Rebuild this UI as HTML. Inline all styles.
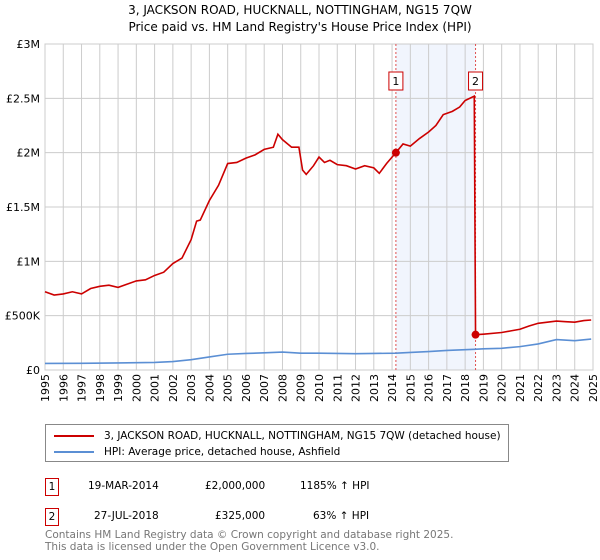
<!DOCTYPE html>
<html><head><meta charset="utf-8"><style>
body{margin:0;background:#fff;font-family:"DejaVu Sans","Liberation Sans",sans-serif;}
#wrap{position:relative;width:600px;height:560px;overflow:hidden}
.t{position:absolute;font-size:11px;color:#000;white-space:nowrap}
</style></head><body>
<div id="wrap">
<div class="t" style="left:0;width:600px;text-align:center;top:2px;font-size:12px;line-height:17px">3, JACKSON ROAD, HUCKNALL, NOTTINGHAM, NG15 7QW<br>Price paid vs. HM Land Registry's House Price Index (HPI)</div>
<svg id="chart" width="600" height="410" style="position:absolute;left:0;top:0"></svg>
<div style="position:absolute;left:45px;top:424px;width:464px;height:38px;border:1px solid #888;box-sizing:border-box">
 <div style="position:absolute;left:8px;top:5px;font-size:10.5px"><span style="display:inline-block;width:40px;height:2px;background:#cc0000;vertical-align:middle;margin-right:10px"></span>3, JACKSON ROAD, HUCKNALL, NOTTINGHAM, NG15 7QW (detached house)</div>
 <div style="position:absolute;left:8px;top:21px;font-size:10.5px"><span style="display:inline-block;width:40px;height:2px;background:#5b8fd4;vertical-align:middle;margin-right:10px"></span>HPI: Average price, detached house, Ashfield</div>
</div>
<div style="position:absolute;left:45px;top:478px;width:14px;height:18px;border:1px solid #cc0000;box-sizing:border-box;font-size:10.5px;text-align:center;line-height:16px">1</div>
<div class="t" style="left:88px;top:480px;font-size:10.5px">19-MAR-2014</div>
<div class="t" style="left:205px;top:480px;font-size:10.5px">£2,000,000</div>
<div class="t" style="left:300px;top:480px;font-size:10.5px">1185% ↑ HPI</div>
<div style="position:absolute;left:45px;top:508px;width:14px;height:18px;border:1px solid #cc0000;box-sizing:border-box;font-size:10.5px;text-align:center;line-height:16px">2</div>
<div class="t" style="left:94px;top:510px;font-size:10.5px">27-JUL-2018</div>
<div class="t" style="left:215px;top:510px;font-size:10.5px">£325,000</div>
<div class="t" style="left:313px;top:510px;font-size:10.5px">63% ↑ HPI</div>
<div class="t" style="left:45px;top:530px;font-size:10.5px;color:#777;line-height:11.5px">Contains HM Land Registry data © Crown copyright and database right 2025.<br>This data is licensed under the Open Government Licence v3.0.</div>
</div>
<script>
const yTicks=[0,500000,1000000,1500000,2000000,2500000,3000000];
const yTickLabels=["£0","£500K","£1M","£1.5M","£2M","£2.5M","£3M"];
const xYears=[1995,1996,1997,1998,1999,2000,2001,2002,2003,2004,2005,2006,2007,2008,2009,2010,2011,2012,2013,2014,2015,2016,2017,2018,2019,2020,2021,2022,2023,2024,2025];
const saleDates=[2014.21,2018.57];
const salePrices=[2000000,325000];
const redT=[1995,1995.5,1996,1996.5,1997,1997.5,1998,1998.5,1999,1999.5,2000,2000.5,2001,2001.5,2002,2002.5,2003,2003.3,2003.5,2004,2004.5,2005,2005.5,2006,2006.5,2007,2007.5,2007.75,2008,2008.5,2008.9,2009.1,2009.3,2009.7,2010,2010.3,2010.6,2011,2011.5,2012,2012.5,2013,2013.3,2013.7,2014.21,2014.6,2015,2015.5,2016,2016.4,2016.8,2017.3,2017.7,2018,2018.5,2018.57,2019,2020,2020.5,2021,2021.5,2022,2023,2023.5,2024,2024.5,2024.9];
const redV=[720,690,700,720,700,750,770,780,760,790,820,830,870,900,980,1030,1200,1370,1380,1560,1700,1900,1910,1950,1980,2030,2050,2170,2120,2050,2050,1840,1800,1880,1960,1910,1930,1890,1880,1850,1880,1860,1810,1900,2000,2080,2060,2130,2190,2250,2350,2380,2420,2480,2520,325,330,345,360,375,405,430,450,445,440,455,460];
const hpiT=[1995,1997,1999,2001,2002,2003,2004,2005,2006,2007,2008,2009,2010,2012,2013,2014.2,2015,2016,2017,2018.5,2019,2020,2021,2022,2023,2024,2024.9];
const hpiV=[60,62,65,70,78,95,120,145,152,158,165,155,155,150,152,155,162,170,180,190,195,200,215,240,280,270,285];
const X0=45,X1=593,Y0=370,Y1=44;
const x=t=>X0+(t-1995)/30*(X1-X0);
const y=v=>Y0-v/3000000*(Y0-Y1);
const svg=document.getElementById('chart');const NS='http://www.w3.org/2000/svg';
function mk(tag,attrs){const e=document.createElementNS(NS,tag);for(const k in attrs)e.setAttribute(k,attrs[k]);svg.appendChild(e);return e;}
let e=mk('rect',{x:x(saleDates[0]),y:Y1,width:x(saleDates[1])-x(saleDates[0]),height:Y0-Y1,fill:'#eef3fd',opacity:0.8});


xYears.forEach(yr=>{const g=mk('line',{x1:x(yr),x2:x(yr),y1:Y1,y2:Y0,stroke:'#ccc','stroke-width':1});


const l=mk('text',{x:0,y:0,'font-size':11,'text-anchor':'end',transform:`translate(${x(yr)+4},${Y0+4}) rotate(-90)`,'font-family':'DejaVu Sans, Liberation Sans, sans-serif'});l.textContent=yr;

});
yTicks.forEach((v,i)=>{const g=mk('line',{x1:X0,x2:X1,y1:y(v),y2:y(v),stroke:'#ccc','stroke-width':1});


const l=mk('text',{x:X0-5,y:y(v)+4,'font-size':11,'text-anchor':'end','font-family':'DejaVu Sans, Liberation Sans, sans-serif'});l.textContent=yTickLabels[i];

});
e=mk('rect',{x:X0,y:Y1,width:X1-X0,height:Y0-Y1,fill:'none',stroke:'#ccc'});


saleDates.forEach((d,i)=>{const l=mk('line',{x1:x(d),x2:x(d),y1:Y1,y2:Y0,stroke:'#e05050','stroke-width':1,'stroke-dasharray':'2,2'});


const b=mk('rect',{x:x(d)-7,y:72,width:14,height:18,fill:'#fff',stroke:'#cc0000'});


const t=mk('text',{x:x(d),y:85,'font-size':11,'text-anchor':'middle','font-family':'DejaVu Sans, sans-serif'});t.textContent=i+1;

});
const hp=mk('polyline',{points:hpiT.map((t,i)=>x(t)+','+y(hpiV[i]*1000)).join(' '),fill:'none',stroke:'#5b8fd4','stroke-width':1.6});


const rp=mk('polyline',{points:redT.map((t,i)=>x(t)+','+y(redV[i]*1000)).join(' '),fill:'none',stroke:'#cc0000','stroke-width':1.6});


saleDates.forEach((d,i)=>{const c=mk('circle',{cx:x(d),cy:y(salePrices[i]),r:4,fill:'#cc0000'});

});
</script>
</body></html>
